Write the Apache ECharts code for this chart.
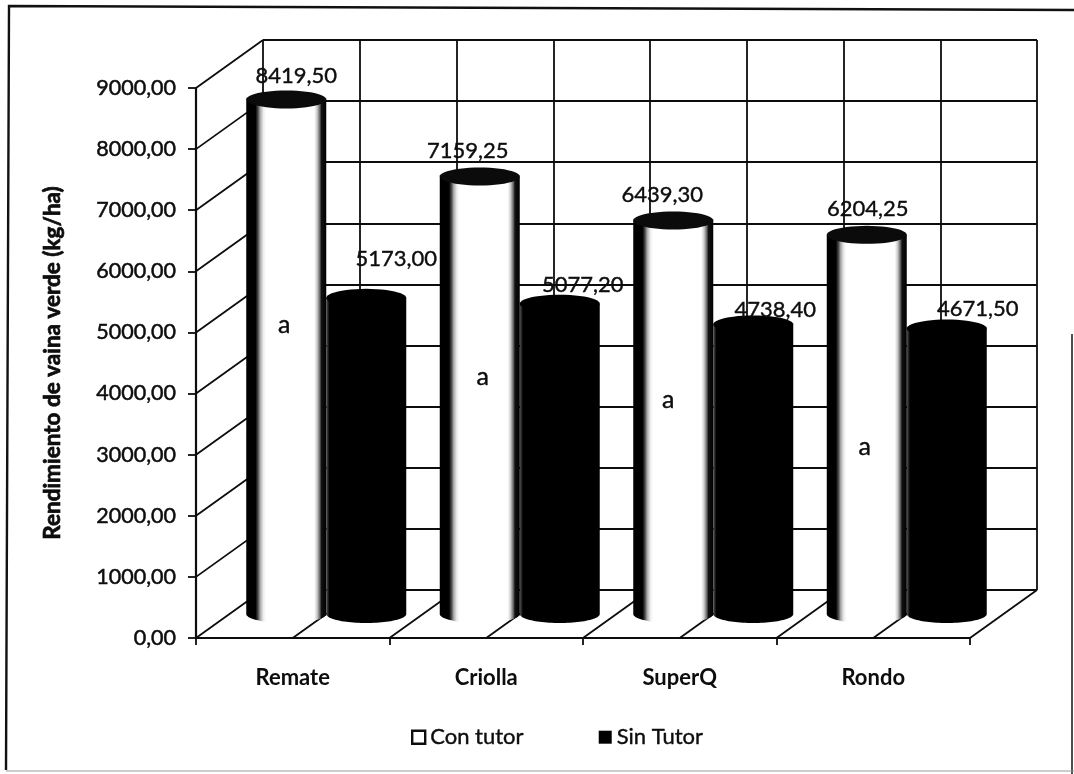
<!DOCTYPE html>
<html><head><meta charset="utf-8">
<style>html,body{margin:0;padding:0;background:#fff}#c{width:1074px;height:774px}</style>
<script src="https://cdn.jsdelivr.net/npm/echarts@6/dist/echarts.min.js"></script>
</head><body><div id="c"></div>
<script>
const categories = ['Remate','Criolla','SuperQ','Rondo'];
const conTutor = [8419.50,7159.25,6439.30,6204.25];
const sinTutor = [5173.00,5077.20,4738.40,4671.50];
const letterValues = [4730,3880,3500,2730];
const letters = ['a','a','a','a'];
const yTicks = [0,1000,2000,3000,4000,5000,6000,7000,8000,9000];
const seriesNames = ['Con tutor','Sin Tutor'];

// layout only
const DX = 67, DY = -48;           // depth of the 3D box
const BW = 80, RY = 9;             // cylinder width and ellipse half height
const FONT = '22px Lato, sans-serif';
const LETTER_FONT = '25px Lato, sans-serif';
const INK = '#0d0d0d';
const LW = 1.8;
const conLabelShift = [[10,-24],[-12,-26],[-11,-26],[1,-26]];
const sinLabelShift = [[30,-39],[23,-19],[22,-15],[31,-20]];
const letterShift = [-2,3,-5,-2];

const fmt = v => v.toFixed(2).replace('.',',');
function ellipse(cx,cy,rx,ry,from,to){
  const pts=[],n=48;
  for(let i=0;i<=n;i++){const t=from+(to-from)*i/n;pts.push([cx+rx*Math.cos(t),cy+ry*Math.sin(t)]);}
  return pts;
}
const whiteBody = new echarts.graphic.LinearGradient(0,0,1,0,[
  {offset:0,color:'#000'},{offset:.115,color:'#000'},{offset:.145,color:'#444'},
  {offset:.175,color:'#aaa'},{offset:.215,color:'#eee'},{offset:.25,color:'#fff'},
  {offset:.85,color:'#fff'},{offset:.885,color:'#ccc'},{offset:.92,color:'#666'},
  {offset:.94,color:'#111'},{offset:1,color:'#000'}]);
const blackBody = new echarts.graphic.LinearGradient(0,0,1,0,[
  {offset:0,color:'#555'},{offset:.04,color:'#000'},{offset:1,color:'#000'}]);

function cylinder(side, bodyFill, topFill){
  return function(params, api){
    const base = api.coord([api.value(0),0]);
    const top = api.coord([api.value(0),api.value(1)]);
    const cx = base[0]+DX/2+side*BW/2;
    const by = base[1]+DY/2, ty = top[1]+DY/2, rx = BW/2;
    const pts = [[cx-rx,ty],[cx+rx,ty]].concat(ellipse(cx,by,rx,RY,0,Math.PI));
    return {type:'group',children:[
      {type:'polygon',shape:{points:pts},style:{fill:bodyFill}},
      {type:'polygon',shape:{points:ellipse(cx,ty,rx,RY,0,Math.PI*2)},style:{fill:topFill}}
    ]};
  };
}
function labelItem(side, shifts){
  return function(params, api){
    const i = api.value(0), v = api.value(1);
    const p = api.coord([i,v]);
    return {type:'text',style:{
      x:p[0]+DX/2+side*BW/2+shifts[i][0], y:p[1]+DY/2+shifts[i][1],
      text:fmt(v), align:'center', verticalAlign:'middle', font:FONT, fill:INK,
      stroke:INK, lineWidth:.4}};
  };
}
const wallLine = (a,b) => ({type:'line',shape:{x1:a[0],y1:a[1],x2:b[0],y2:b[1]},
  style:{stroke:INK,lineWidth:LW}});

const option = {
  animation:false,
  backgroundColor:'#fff',
  textStyle:{fontFamily:'Lato, sans-serif'},
  grid:[
    {left:196,top:88,width:774,height:550},
    {left:263,top:40,width:774,height:550}
  ],
  xAxis:[
    {type:'category',gridIndex:0,data:categories,
     axisLine:{lineStyle:{color:INK,width:2.2}},
     axisTick:{show:true,length:7,alignWithLabel:false,lineStyle:{color:INK,width:LW}},
     axisLabel:{color:INK,fontSize:22,fontWeight:'bold',margin:29,fontFamily:'Lato, sans-serif'},
     splitLine:{show:false}},
    {type:'value',gridIndex:1,min:0,max:8,interval:1,
     axisLine:{show:false},axisTick:{show:false},axisLabel:{show:false},
     splitLine:{show:true,lineStyle:{color:INK,width:LW}}}
  ],
  yAxis:[
    {type:'value',gridIndex:0,min:0,max:9000,interval:1000,
     name:'Rendimiento de vaina verde (kg/ha)',nameLocation:'middle',nameGap:132,
     nameTextStyle:{color:INK,fontSize:22.5,fontWeight:'bold',textBorderColor:INK,textBorderWidth:.7,fontFamily:'Lato, sans-serif'},
     axisLine:{show:true,lineStyle:{color:INK,width:2.2}},
     axisTick:{show:true,length:8,lineStyle:{color:INK,width:LW}},
     axisLabel:{color:INK,fontSize:21.5,margin:20,padding:[3,0,0,0],fontFamily:'Lato, sans-serif',
       textBorderColor:INK,textBorderWidth:.5,formatter:v=>fmt(v)},
     splitLine:{show:false}},
    {type:'value',gridIndex:1,min:0,max:9000,interval:1000,
     axisLine:{show:false},axisTick:{show:false},axisLabel:{show:false},
     splitLine:{show:true,lineStyle:{color:INK,width:LW}}}
  ],
  legend:{
    left:406,top:721,itemWidth:13,itemHeight:13,itemGap:75,icon:'rect',
    selectedMode:false,
    data:[
      {name:seriesNames[0],itemStyle:{color:'#fff',borderColor:INK,borderWidth:2.4}},
      {name:seriesNames[1],itemStyle:{color:'#000'}}
    ],
    textStyle:{color:INK,fontSize:22,textBorderColor:INK,textBorderWidth:.4,padding:[0,0,0,0],fontFamily:'Lato, sans-serif'}
  },
  graphic:[
    {type:'polyline',silent:true,shape:{points:[[6,770],[9,6],[1074,10]]},style:{fill:null,stroke:'#111',lineWidth:2.4}},
    {type:'line',silent:true,shape:{x1:1072,y1:334,x2:1072,y2:774},style:{stroke:'#222',lineWidth:1.6}},
    {type:'line',silent:true,shape:{x1:6,y1:771,x2:1074,y2:771},style:{stroke:'#999',lineWidth:1}}
  ],
  series:[
    {type:'custom',name:'Pared',silent:true,z:3,xAxisIndex:0,yAxisIndex:0,
     data:yTicks.map(v=>[0,v]),
     encode:{x:0,y:1},
     renderItem(params,api){
       const half = api.size([1,0])[0]/2;
       const p = api.coord([0,api.value(1)]);
       const a = [p[0]-half,p[1]];
       return wallLine(a,[a[0]+DX,a[1]+DY]);
     }},
    {type:'custom',name:'Piso',silent:true,z:3,xAxisIndex:0,yAxisIndex:0,
     data:categories.map((c,i)=>[i,0]),
     encode:{x:0,y:1},
     renderItem(params,api){
       const half = api.size([1,0])[0]/2;
       const p = api.coord([api.value(0),0]);
       const xs = [p[0],p[0]+half];
       return {type:'group',children:xs.map(x=>wallLine([x,p[1]],[x+DX,p[1]+DY]))};
     }},
    {type:'custom',name:seriesNames[1],z:4,xAxisIndex:0,yAxisIndex:0,
     itemStyle:{color:'#000'},
     data:sinTutor.map((v,i)=>[i,v]),encode:{x:0,y:1},
     renderItem:cylinder(1,blackBody,'#000')},
    {type:'custom',name:seriesNames[0],z:5,xAxisIndex:0,yAxisIndex:0,
     itemStyle:{color:'#fff'},
     data:conTutor.map((v,i)=>[i,v]),encode:{x:0,y:1},
     renderItem:cylinder(-1,whiteBody,'#0b0b0b')},
    {type:'custom',name:'Valores Sin',silent:true,z:7,xAxisIndex:0,yAxisIndex:0,
     data:sinTutor.map((v,i)=>[i,v]),encode:{x:0,y:1},renderItem:labelItem(1,sinLabelShift)},
    {type:'custom',name:'Valores Con',silent:true,z:7,xAxisIndex:0,yAxisIndex:0,
     data:conTutor.map((v,i)=>[i,v]),encode:{x:0,y:1},renderItem:labelItem(-1,conLabelShift)},
    {type:'custom',name:'Letras',silent:true,z:7,xAxisIndex:0,yAxisIndex:0,
     data:letterValues.map((v,i)=>[i,v]),encode:{x:0,y:1},
     renderItem(params,api){
       const i=api.value(0);
       const p=api.coord([i,api.value(1)]);
       return {type:'text',style:{x:p[0]+DX/2-BW/2+letterShift[i],y:p[1]+DY/2,text:letters[i],
         align:'center',verticalAlign:'middle',font:LETTER_FONT,fill:INK,stroke:INK,lineWidth:.4}};
     }}
  ]
};
echarts.init(document.getElementById('c'),null,{renderer:'canvas'}).setOption(option);
</script></body></html>
